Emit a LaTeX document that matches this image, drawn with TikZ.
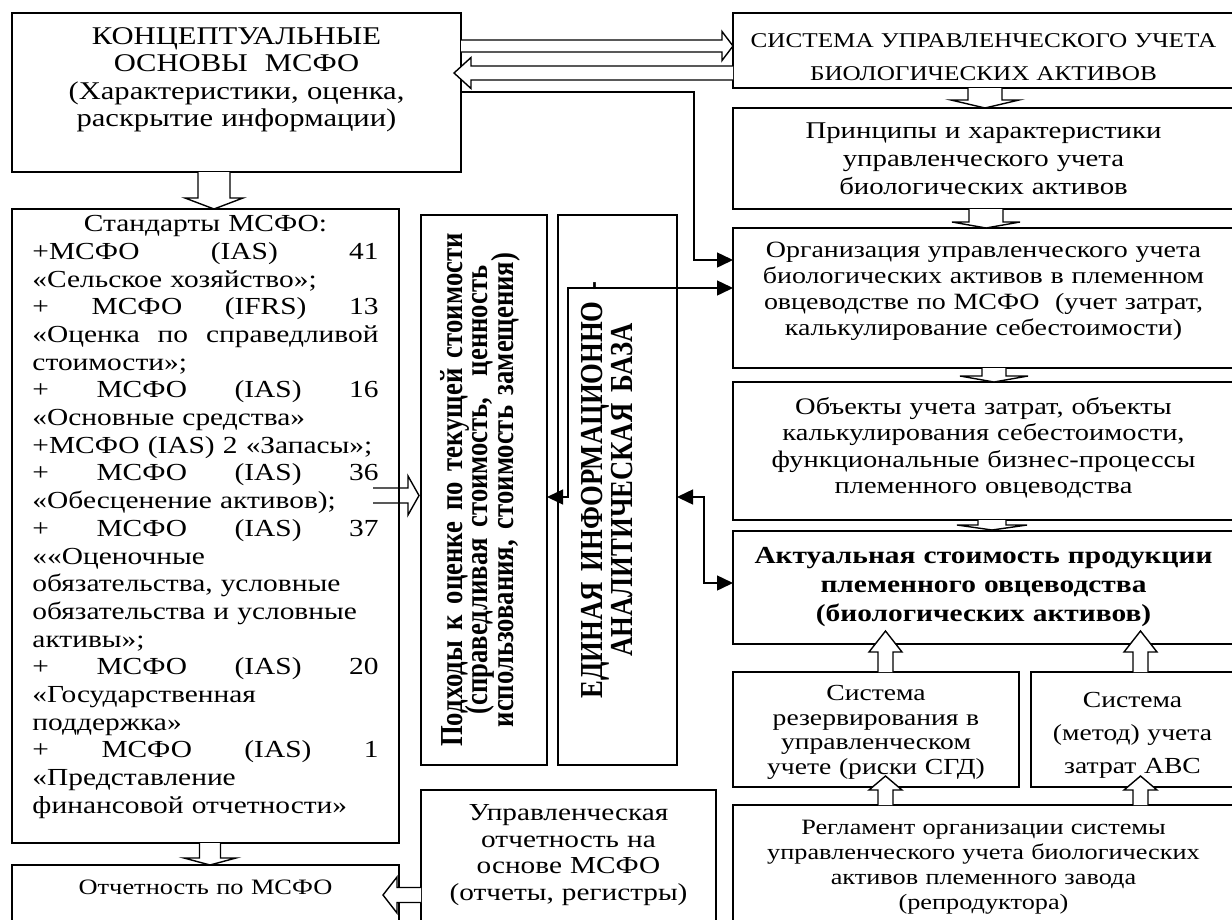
\documentclass[tikz,border=0pt]{standalone}
\usepackage{fontspec}
\setmainfont{Liberation Serif}
\newfontfamily\hf[FakeStretch=1.2]{Liberation Serif}
\newfontfamily\vf[FakeStretch=0.8333]{Liberation Serif}
\usetikzlibrary{arrows.meta,calc}
\lineskiplimit=-50pt
\newcommand\fs[2]{\fontsize{#1}{#2}\selectfont\lineskiplimit=-50pt\relax}
% vertical block arrow: [opts]{cx}{ytail}{ybase}{ytip}{shaft half}{head half}
\newcommand\fatV[7][]{\filldraw[fat,#1] ({#2-#6},#3) -- ({#2-#6},#4) -- ({#2-#7},#4) -- (#2,#5) -- ({#2+#7},#4) -- ({#2+#6},#4) -- ({#2+#6},#3);}
% horizontal block arrow: [opts]{cy}{xtail}{xbase}{xtip}{shaft half}{head half}
\newcommand\fatH[7][]{\filldraw[fat,#1] (#3,{#2-#6}) -- (#4,{#2-#6}) -- (#4,{#2-#7}) -- (#5,#2) -- (#4,{#2+#7}) -- (#4,{#2+#6}) -- (#3,{#2+#6});}
% justified (spread) line
\newcommand\sline[1]{\makebox[346pt][s]{\spaceskip=0pt\xspaceskip=0pt\relax #1}}
\newcommand\tstrut[1]{\rule{0pt}{#1}}
\tikzset{
  box/.style={draw, line width=1.6pt, inner sep=0pt, outer sep=0pt, anchor=north west, align=center},
  fat/.style={draw, fill=white, line width=1.4pt, line join=miter},
  arr/.style={line width=1.5pt, -{Triangle[length=16pt,width=15pt]}},
  darr/.style={line width=1.5pt, {Triangle[length=16pt,width=15pt]}-{Triangle[length=16pt,width=15pt]}}
}
\begin{document}
\begin{tikzpicture}[x=1pt,y=-1pt]
\useasboundingbox (0,0) rectangle (1232,919);
\fill[white] (0,0) rectangle (1232,919);
\clip (0,0) rectangle (1232,919);

% left column
\node[box, minimum width=449pt, minimum height=159pt, text width=430pt, font={\hf\fs{25.5}{27.5}}] (kons) at (12,13)
 {КОНЦЕПТУАЛЬНЫЕ\\ОСНОВЫ\ \ МСФО\\(Характеристики, оценка,\\раскрытие информации)\par\kern25pt};

\node[box, minimum width=387pt, minimum height=634pt, text width=346pt, align=left, font={\hf\fs{24.5}{27.7}}] (std) at (12,209) {%
\makebox[346pt][c]{Стандарты МСФО:}\\
\sline{+МСФО (IAS) 41}\\
«Сельское хозяйство»;\\
\sline{+ МСФО (IFRS) 13}\\
\sline{«Оценка по справедливой}\\
стоимости»;\\
\sline{+ МСФО (IAS) 16}\\
«Основные средства»\\
+МСФО (IAS) 2 «Запасы»;\\
\sline{+ МСФО (IAS) 36}\\
«Обесценение активов);\\
\sline{+ МСФО (IAS) 37}\\
««Оценочные\\
обязательства, условные\\
обязательства и условные\\
активы»;\\
\sline{+ МСФО (IAS) 20}\\
«Государственная\\
поддержка»\\
\sline{+ МСФО (IAS) 1}\\
«Представление\\
финансовой отчетности»\par\kern18pt};

\node[box, minimum width=387pt, minimum height=65pt, text width=370pt, font={\hf\fs{22}{26}}] (otch) at (12,865)
 {Отчетность по МСФО\par\kern21pt};

% middle column
\node[box, rotate=90, anchor=center, minimum width=550pt, minimum height=126pt, text width=530pt, font={\vf\bfseries\fs{32}{25.5}}] (podh) at (484,490)
 {Подходы к оценке по текущей стоимости\\(справедливая стоимость,\ \ ценность\\использования, стоимость замещения)\par\kern8pt};

\node[box, rotate=90, anchor=center, minimum width=550pt, minimum height=119pt, text width=530pt, font={\vf\bfseries\fs{32}{30}}] (edin) at (617.5,490)
 {ЕДИНАЯ ИНФОРМАЦИОННО -\\АНАЛИТИЧЕСКАЯ БАЗА\par\kern21pt};

\node[box, minimum width=295pt, minimum height=140pt, text width=280pt, font={\hf\fs{24.4}{26.7}}] (upr) at (421,790)
 {Управленческая\\отчетность на\\основе МСФО\\(отчеты, регистры)\par\kern10pt};

% right column
\node[box, minimum width=501pt, minimum height=75pt, text width=480pt, font={\hf\fs{21}{33}}] (sys) at (733,13)
 {\tstrut{27pt}СИСТЕМА УПРАВЛЕНЧЕСКОГО УЧЕТА\\БИОЛОГИЧЕСКИХ АКТИВОВ};
\node[box, minimum width=501pt, minimum height=101pt, text width=480pt, font={\hf\fs{24}{28}}] (princ) at (733,108)
 {Принципы и характеристики\\управленческого учета\\биологических активов};
\node[box, minimum width=501pt, minimum height=140pt, text width=480pt, font={\hf\fs{23.3}{26}}] (org) at (733,228)
 {Организация управленческого учета\\биологических активов в племенном\\овцеводстве по МСФО\ \ (учет затрат,\\калькулирование себестоимости)\par\kern14pt};
\node[box, minimum width=501pt, minimum height=138pt, text width=480pt, font={\hf\fs{23.7}{26.5}}] (obj) at (733,382)
 {Объекты учета затрат, объекты\\калькулирования себестоимости,\\функциональные бизнес-процессы\\племенного овцеводства\par\kern6pt};
\node[box, minimum width=501pt, minimum height=113pt, text width=480pt, font={\hf\bfseries\fs{24.5}{29}}] (akt) at (733,531)
 {Актуальная стоимость продукции\\племенного овцеводства\\(биологических активов)};
\node[box, minimum width=286pt, minimum height=115pt, text width=270pt, font={\hf\fs{23}{24.5}}] (rez) at (733,672)
 {\tstrut{21pt}Система\\резервирования в\\управленческом\\учете (риски СГД)};
\node[box, minimum width=203pt, minimum height=115pt, text width=190pt, font={\hf\fs{23}{33}}] (abc) at (1031,672)
 {\tstrut{27pt}Система\\(метод) учета\\затрат ABC};
\node[box, minimum width=501pt, minimum height=125pt, text width=480pt, font={\hf\fs{21.9}{25}}] (regl) at (733,805)
 {Регламент организации системы\\управленческого учета биологических\\активов племенного завода\\(репродуктора)};

% block arrows
\fatH{46}{461}{722}{733}{6}{14.5}
\fatH{73}{733}{471}{454}{7}{15.5}
\fatV{214}{172}{198}{209}{16}{29}
\fatV{210}{843}{858}{865}{10.5}{26}
\fatV{985}{88}{100}{108}{17}{34}
\fatV{986}{209}{222}{228}{17}{34}
\fatV{994}{368}{376}{382}{12}{34}
\fatV{992}{520}{525}{530}{14}{35}
\fatV{885.5}{672}{652}{631}{7.5}{16.5}
\fatV{1140.5}{672}{652}{631}{7.5}{16.5}
\fatV{885.5}{805}{790}{776}{7.5}{16.5}
\fatV{1140.5}{805}{790}{776}{7.5}{16.5}
\fatH[fill=none]{495.5}{373}{408}{419}{7.5}{19.5}
\fatH{895}{421}{397}{383}{7.5}{18}

% thin arrows
\draw[arr] (kons.east |- 0,92) -| (694,260) -- (org.west |- 0,260);
\draw[darr] (org.west |- 0,288) -| (568,497) -- (podh.south |- 0,497);
\draw[darr] (edin.south |- 0,497) -| (704,583) -- (akt.west |- 0,583);
\end{tikzpicture}
\end{document}
